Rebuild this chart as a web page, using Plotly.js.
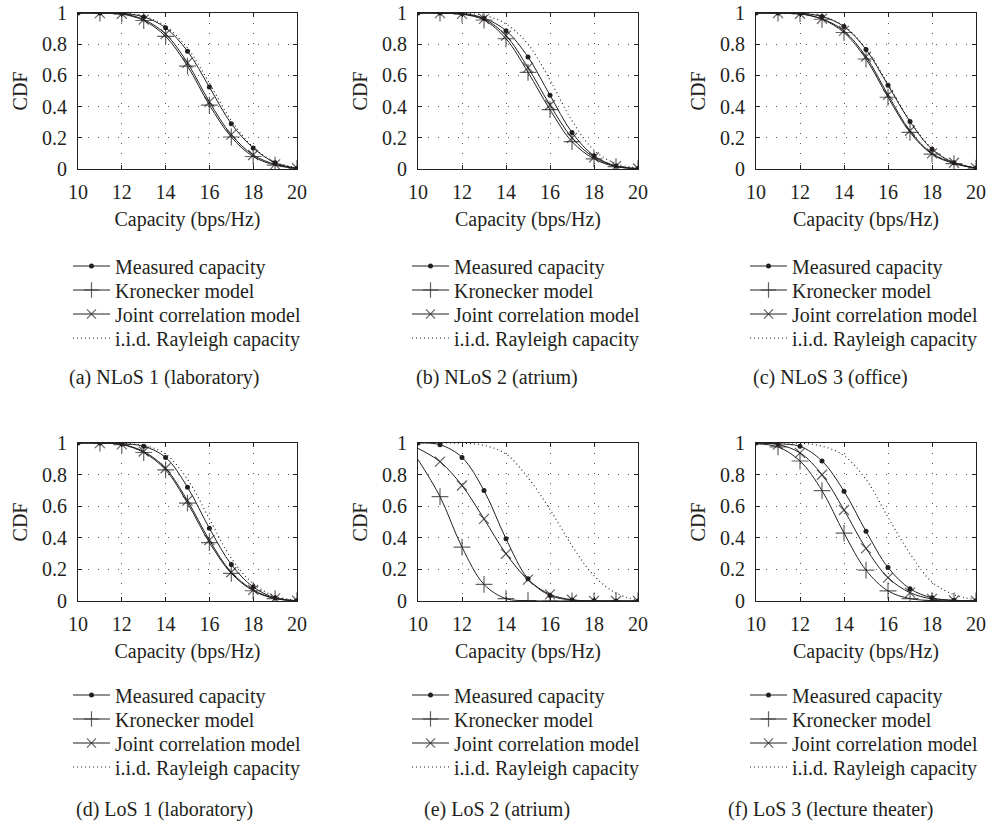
<!DOCTYPE html>
<html>
<head>
<meta charset="utf-8">
<script src="https://cdn.plot.ly/plotly-3.0.1.min.js"></script>
<style>
  html, body { margin: 0; padding: 0; background: #ffffff; }
  #chart { width: 999px; height: 821px; }
</style>
</head>
<body>
<div id="chart"></div>
<script>
// ---------- data ----------
const capacity = [10, 11, 12, 13, 14, 15, 16, 17, 18, 19, 20];
const xTickVals = [10, 12, 14, 16, 18, 20];
const yTickVals = [0, 0.2, 0.4, 0.6, 0.8, 1];
const yTickText = ['0', '0.2', '0.4', '0.6', '0.8', '1'];
const seriesNames = ['Measured capacity', 'Kronecker model', 'Joint correlation model', 'i.i.d. Rayleigh capacity'];
const panelCaptions = ['(a) NLoS 1 (laboratory)', '(b) NLoS 2 (atrium)', '(c) NLoS 3 (office)',
                       '(d) LoS 1 (laboratory)', '(e) LoS 2 (atrium)', '(f) LoS 3 (lecture theater)'];
const xTitle = 'Capacity (bps/Hz)';
const yTitle = 'CDF';

// (a) NLoS 1
const measuredA = [1, 1, 0.998, 0.975, 0.905, 0.755, 0.525, 0.29, 0.135, 0.04, 0.005];
const kroneckerA = [1, 0.999, 0.993, 0.952, 0.85, 0.66, 0.41, 0.205, 0.08, 0.025, 0.004];
const jointA = [1, 0.999, 0.995, 0.958, 0.865, 0.68, 0.43, 0.22, 0.09, 0.03, 0.005];
const iidA = [1, 1, 0.998, 0.98, 0.915, 0.775, 0.55, 0.31, 0.14, 0.045, 0.008];
// (b) NLoS 2
const measuredB = [1, 1, 0.997, 0.967, 0.887, 0.718, 0.473, 0.234, 0.085, 0.02, 0.003];
const kroneckerB = [1, 0.999, 0.992, 0.955, 0.835, 0.62, 0.38, 0.175, 0.065, 0.015, 0.002];
const jointB = [1, 0.999, 0.994, 0.962, 0.855, 0.65, 0.41, 0.2, 0.075, 0.018, 0.003];
const iidB = [1, 1, 0.998, 0.985, 0.93, 0.8, 0.57, 0.31, 0.12, 0.035, 0.005];
// (c) NLoS 3
const measuredC = [1, 1, 0.998, 0.978, 0.913, 0.766, 0.537, 0.304, 0.127, 0.04, 0.006];
const kroneckerC = [1, 0.999, 0.994, 0.96, 0.875, 0.705, 0.46, 0.235, 0.095, 0.035, 0.005];
const jointC = [1, 0.999, 0.995, 0.963, 0.885, 0.72, 0.475, 0.245, 0.1, 0.04, 0.006];
const iidC = [1, 1, 0.998, 0.979, 0.916, 0.772, 0.545, 0.31, 0.13, 0.042, 0.007];
// (d) LoS 1
const measuredD = [1, 1, 0.996, 0.979, 0.909, 0.72, 0.46, 0.231, 0.089, 0.02, 0.002];
const kroneckerD = [1, 0.999, 0.99, 0.94, 0.83, 0.62, 0.37, 0.175, 0.065, 0.015, 0.002];
const jointD = [1, 0.999, 0.991, 0.946, 0.84, 0.635, 0.385, 0.182, 0.07, 0.017, 0.002];
const iidD = [1, 1, 0.998, 0.985, 0.93, 0.77, 0.52, 0.27, 0.11, 0.03, 0.005];
// (e) LoS 2
const measuredE = [1, 0.989, 0.909, 0.699, 0.394, 0.141, 0.035, 0.006, 0.001, 0, 0];
const kroneckerE = [0.895, 0.661, 0.341, 0.105, 0.015, 0.002, 0, 0, 0, 0, 0];
const jointE = [0.966, 0.882, 0.731, 0.52, 0.299, 0.135, 0.042, 0.008, 0.001, 0, 0];
const iidE = [1, 1, 0.998, 0.985, 0.93, 0.78, 0.58, 0.35, 0.16, 0.05, 0.005];
// (f) LoS 3
const measuredF = [1, 0.995, 0.979, 0.886, 0.695, 0.441, 0.212, 0.078, 0.02, 0.005, 0.001];
const kroneckerF = [0.995, 0.975, 0.886, 0.699, 0.43, 0.195, 0.064, 0.015, 0.003, 0, 0];
const jointF = [1, 0.99, 0.938, 0.799, 0.576, 0.333, 0.148, 0.053, 0.013, 0.003, 0];
const iidF = [1, 1, 0.998, 0.98, 0.92, 0.77, 0.53, 0.3, 0.12, 0.04, 0.008];

const panels = [
  [measuredA, kroneckerA, jointA, iidA],
  [measuredB, kroneckerB, jointB, iidB],
  [measuredC, kroneckerC, jointC, iidC],
  [measuredD, kroneckerD, jointD, iidD],
  [measuredE, kroneckerE, jointE, iidE],
  [measuredF, kroneckerF, jointF, iidF]
];

// ---------- layout geometry (pixels) ----------
const W = 999, H = 821;
const colLeft = [78, 418, 756], colRight = [297, 638, 976];
const rowTop = [13, 443], rowBottom = [169, 601];
const legendLeft = [68, 407, 745];
const legendRowY = [[266, 290, 314, 338], [695, 719, 743, 767]];
const captionY = [377, 809];
const captionX = [164, 497, 830];
const px = v => v / W, py = v => 1 - v / H;

const FONT = '"Liberation Serif", "Times New Roman", serif';
const FS = 20;
const INK = '#231f20';

const traces = [];
const layout = {
  width: W, height: H,
  margin: {l: 0, r: 0, t: 0, b: 0},
  paper_bgcolor: '#ffffff', plot_bgcolor: '#ffffff',
  font: {family: FONT, size: FS, color: INK},
  annotations: []
};

const firstPointHidden = (size) => capacity.map((c, i) => i === 0 ? 0 : size);

panels.forEach((series, p) => {
  const col = p % 3, row = Math.floor(p / 3);
  const suf = p === 0 ? '' : String(p + 1);
  const xa = 'x' + suf, ya = 'y' + suf;
  const styles = [
    {mode: 'lines+markers', marker: {symbol: 'circle', size: 5, color: INK}, line: {color: INK, width: 1, shape: 'spline'}},
    {mode: 'lines+markers', marker: {symbol: 'cross-thin-open', size: firstPointHidden(12), color: INK, line: {color: INK, width: 1.2}}, line: {color: INK, width: 1, shape: 'spline'}},
    {mode: 'lines+markers', marker: {symbol: 'x-thin-open', size: firstPointHidden(10), color: INK, line: {color: INK, width: 1.2}}, line: {color: INK, width: 1, shape: 'spline'}},
    {mode: 'lines', line: {color: INK, width: 1.1, dash: '1px,3px', shape: 'spline'}}
  ];
  series.forEach((vals, s) => {
    const legId = 'legend' + (p * 4 + s === 0 ? '' : String(p * 4 + s + 1));
    traces.push(Object.assign({
      type: 'scatter', x: capacity, y: vals, name: seriesNames[s],
      xaxis: xa, yaxis: ya, legend: legId, showlegend: true, hoverinfo: 'skip'
    }, styles[s]));
    layout[legId] = {
      x: px(legendLeft[col]), xanchor: 'left',
      y: py(legendRowY[row][s]), yanchor: 'middle',
      bgcolor: 'rgba(0,0,0,0)', borderwidth: 0,
      font: {family: FONT, size: FS, color: INK},
      itemwidth: 37, itemclick: false, itemdoubleclick: false
    };
  });

  const axBase = {
    showline: true, linecolor: INK, linewidth: 1, mirror: 'ticks',
    ticks: 'inside', ticklen: 4, tickwidth: 1, tickcolor: INK,
    showgrid: true, gridcolor: '#555555', gridwidth: 1, griddash: '1px,9px',
    zeroline: false, fixedrange: true,
    tickfont: {family: FONT, size: FS, color: INK}
  };
  layout['xaxis' + suf] = Object.assign({}, axBase, {
    domain: [px(colLeft[col]), px(colRight[col])],
    anchor: ya, range: [10, 20],
    tickmode: 'array', tickvals: xTickVals,
    ticklabelstandoff: 5,
    title: {text: xTitle, font: {family: FONT, size: FS, color: INK}, standoff: 9}
  });
  layout['yaxis' + suf] = Object.assign({}, axBase, {
    domain: [py(rowBottom[row]), py(rowTop[row])],
    anchor: xa, range: [0, 1],
    tickmode: 'array', tickvals: yTickVals, ticktext: yTickText,
    ticklabelstandoff: 6,
    title: {text: yTitle, font: {family: FONT, size: FS, color: INK}, standoff: 9}
  });

  layout.annotations.push({
    text: panelCaptions[p], xref: 'paper', yref: 'paper',
    x: px(captionX[col]), y: py(captionY[row]),
    xanchor: 'center', yanchor: 'middle', showarrow: false,
    font: {family: FONT, size: FS, color: INK}
  });
});

Plotly.newPlot('chart', traces, layout, {staticPlot: true, displayModeBar: false});
</script>
</body>
</html>
